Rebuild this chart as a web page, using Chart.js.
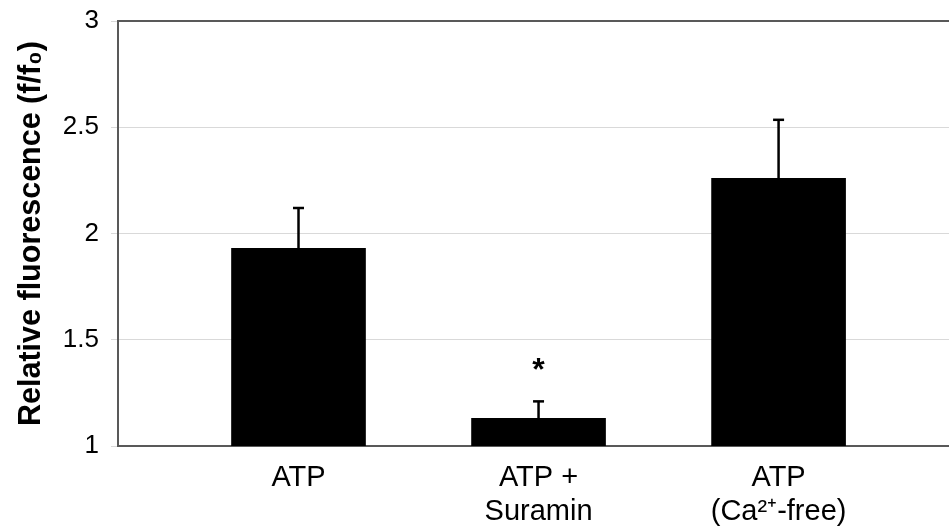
<!DOCTYPE html>
<html>
<head>
<meta charset="utf-8">
<script src="https://cdn.jsdelivr.net/npm/chart.js@4/dist/chart.umd.min.js"></script>
<style>
  html, body { margin: 0; padding: 0; background: #ffffff; }
  #wrap { width: 949px; height: 532px; }
</style>
</head>
<body>
<div id="wrap"><canvas id="c" width="949" height="532"></canvas></div>
<script>
// ---- Data ----
const categories = ['ATP', ['ATP +', 'Suramin'], ['ATP', '(Ca\u00B2\u207A-free)']];
const meanValues = [1.93, 1.13, 2.26];
const errorValues = [0.19, 0.08, 0.275];
const significance = ['', '*', ''];
const yTicks = [1, 1.5, 2, 2.5, 3];
const yTitle = 'Relative fluorescence (f/f\u2080)';

const FONT = "'Liberation Sans', Arial, Helvetica, sans-serif";

const errorBarPlugin = {
  id: 'errorBars',
  afterDatasetsDraw(chart) {
    const ctx = chart.ctx;
    const xs = chart.scales.x, ys = chart.scales.y;
    ctx.save();
    ctx.strokeStyle = '#000';
    ctx.fillStyle = '#000';
    meanValues.forEach((m, i) => {
      const x = xs.getPixelForValue(i);
      const yBase = ys.getPixelForValue(m);
      const yTop = ys.getPixelForValue(m + errorValues[i]);
      ctx.lineWidth = 2.5;
      ctx.beginPath();
      ctx.moveTo(x, yBase);
      ctx.lineTo(x, yTop);
      ctx.stroke();
      ctx.beginPath();
      ctx.moveTo(x - 5.5, yTop);
      ctx.lineTo(x + 5.5, yTop);
      ctx.stroke();
      if (significance[i]) {
        ctx.font = "bold 32px " + FONT;
        ctx.textAlign = 'center';
        ctx.textBaseline = 'alphabetic';
        ctx.fillText(significance[i], x, yTop - 21);
      }
    });
    ctx.restore();
  }
};

const framePlugin = {
  id: 'frame',
  afterDraw(chart) {
    const ctx = chart.ctx;
    const a = chart.chartArea;
    ctx.save();
    ctx.strokeStyle = '#595959';
    ctx.lineWidth = 2;
    ctx.beginPath();
    ctx.moveTo(a.left - 1, a.top);
    ctx.lineTo(chart.width, a.top);
    ctx.stroke();
    ctx.restore();
  }
};

new Chart(document.getElementById('c'), {
  type: 'bar',
  data: {
    datasets: [{
      data: meanValues.map((v, i) => ({ x: i, y: v })),
      backgroundColor: '#000000',
      borderWidth: 0,
      barThickness: 134
    }]
  },
  options: {
    responsive: false,
    animation: false,
    devicePixelRatio: 1,
    layout: { padding: { top: 21, right: 0, bottom: 0, left: 0 } },
    plugins: { legend: { display: false }, tooltip: { enabled: false } },
    scales: {
      x: {
        type: 'linear',
        offset: false,
        min: -0.752,
        max: 2.71,
        grid: { display: false, offset: false },
        border: { display: true, color: '#595959', width: 2 },
        afterBuildTicks: s => { s.ticks = categories.map((c, i) => ({ value: i })); },
        afterFit: s => { s.height = 86; s.paddingLeft = 0; s.paddingRight = 0; },
        ticks: {
          autoSkip: false,
          maxRotation: 0,
          padding: 7,
          color: '#000',
          font: { family: FONT, size: 29, lineHeight: 1.17 },
          callback: v => categories[v]
        }
      },
      y: {
        min: 1,
        max: 3,
        afterBuildTicks: s => { s.ticks = yTicks.map(v => ({ value: v })); },
        afterFit: s => { s.width = 118; s.paddingTop = 0; s.paddingBottom = 0; },
        grid: { color: '#d9d9d9', lineWidth: 1, tickLength: 7 },
        border: { display: true, color: '#595959', width: 2 },
        ticks: {
          padding: 12,
          color: '#000',
          font: { family: FONT, size: 26 },
          callback: v => String(v)
        },
        title: {
          display: true,
          text: yTitle,
          color: '#000',
          padding: { top: 13, bottom: 0 },
          font: { family: FONT, size: 30.5, weight: 'bold' }
        }
      }
    }
  },
  plugins: [errorBarPlugin, framePlugin]
});
</script>
</body>
</html>
